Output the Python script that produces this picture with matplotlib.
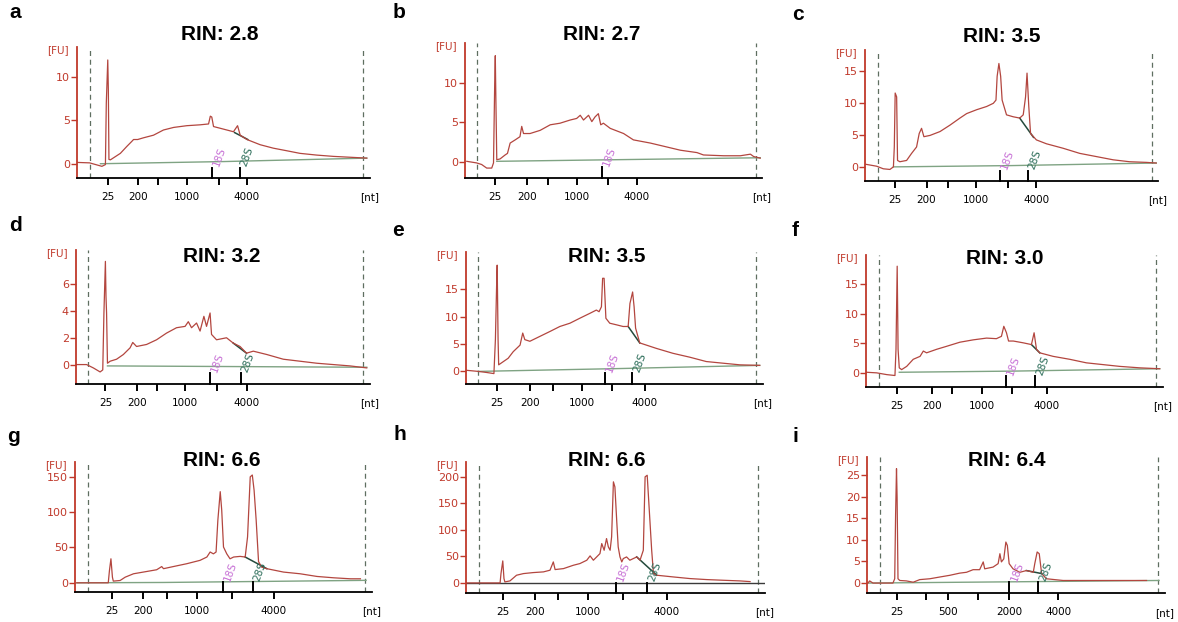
import matplotlib
matplotlib.use('Agg')
import matplotlib.pyplot as plt
import matplotlib.transforms as mtransforms

plt.rcParams['font.family'] = ['DejaVu Sans']

# =============================================================================
# Data (x = position along the run axis, 0-100)
# =============================================================================

rin_a, rin_b, rin_c = 'RIN: 2.8', 'RIN: 2.7', 'RIN: 3.5'
rin_d, rin_e, rin_f = 'RIN: 3.2', 'RIN: 3.5', 'RIN: 3.0'
rin_g, rin_h, rin_i = 'RIN: 6.6', 'RIN: 6.6', 'RIN: 6.4'

ladder_labels = ['25', '200', '', '1000', '', '4000']
ladder_labels_i = ['25', '', '500', '', '2000', '4000']

# a
x_a = [0.2, 4.3, 8.5, 9.7, 10.0, 10.2, 10.5, 10.7, 10.9, 11.4, 14.8, 17.0, 18.75, 19.3, 20.7,
       22.7, 26.1, 29.5, 33.0, 37.5, 42.0, 44.9, 45.5, 46.0, 46.6, 48.9, 53.4, 54.8, 55.7, 58.0,
       62.5, 67.0, 71.6, 76.1, 81.8, 87.5, 93.2, 98.9]
fu_a = [0.15, 0.1, -0.3, -0.1, 7.0, 9.0, 12.0, 8.5, 0.5, 0.45, 1.2, 2.0, 2.6, 2.8, 2.8,
        3.0, 3.3, 3.9, 4.2, 4.4, 4.5, 4.6, 5.5, 5.4, 4.3, 4.1, 3.7, 4.4, 3.3, 2.8,
        2.2, 1.8, 1.5, 1.2, 1.0, 0.85, 0.75, 0.65]
base_x_a, base_y_a = [8.0, 50.0, 98.9], [0.0, 0.25, 0.65]
dark_x_a, dark_y_a = [53.8, 58.3], [3.6, 2.8]
ladder_a = [10.5, 20.7, 27.8, 37.5, 48.3, 58.0]
marks_a = [46.0, 55.5]
dash_a = [4.3, 97.7]
yticks_a = [0, 5, 10]

# b
x_b = [0.6, 3.9, 5.6, 7.3, 9.0, 9.6, 10.0, 10.2, 10.4, 10.7, 11.8, 13.5, 14.3, 15.2, 16.9,
       18.5, 19.1, 19.7, 21.9, 25.3, 28.7, 32.0, 35.4, 37.6, 38.8, 39.9, 41.6, 42.7, 43.8, 44.9,
       45.7, 46.6, 48.9, 53.4, 56.7, 62.4, 66.9, 72.5, 78.1, 80.3, 87.1, 92.7, 96.1, 97.2, 99.4]
fu_b = [0.1, -0.1, -0.3, -0.75, -0.75, -0.1, 9.9, 13.4, 7.8, 0.3, 0.4, 0.9, 1.1, 2.4, 2.8,
        3.2, 4.5, 3.6, 3.6, 4.0, 4.7, 4.9, 5.3, 5.5, 5.9, 5.3, 5.9, 5.1, 5.7, 6.1,
        4.7, 4.9, 4.25, 3.6, 2.8, 2.4, 2.0, 1.5, 1.2, 0.9, 0.8, 0.8, 1.0, 0.7, 0.5]
base_x_b, base_y_b = [10.7, 50.0, 99.4], [0.1, 0.3, 0.55]
dark_x_b, dark_y_b = [], []
ladder_b = [10.2, 20.8, 27.8, 37.6, 48.3, 57.9]
marks_b = [46.1]
dash_b = [4.2, 98.0]
yticks_b = [0, 5, 10]

# c
x_c = [0.3, 4.0, 6.25, 8.5, 9.7, 10.0, 10.3, 10.8, 11.1, 11.9, 14.2, 15.9, 17.6, 18.5, 19.3,
       20.1, 22.2, 25.6, 29.0, 32.4, 34.7, 38.1, 41.5, 43.8, 44.7, 45.1, 45.7, 46.3, 46.8, 48.3,
       50.6, 52.8, 54.0, 54.8, 55.3, 55.9, 56.5, 58.5, 61.9, 67.6, 73.3, 79.0, 84.7, 90.3, 96.0,
       99.4]
fu_c = [0.4, 0.1, -0.3, -0.4, 0.0, 3.1, 11.5, 10.9, 1.0, 0.8, 1.0, 2.1, 3.1, 5.2, 6.0,
        4.7, 4.9, 5.5, 6.5, 7.6, 8.3, 8.9, 9.4, 9.9, 10.4, 14.1, 16.1, 14.1, 10.4, 8.1,
        7.8, 7.6, 8.1, 10.9, 14.6, 9.4, 5.2, 4.2, 3.6, 2.9, 2.1, 1.6, 1.1, 0.8, 0.7,
        0.6]
base_x_c, base_y_c = [9.7, 50.0, 99.4], [0.0, 0.2, 0.6]
dark_x_c, dark_y_c = [52.8, 57.5], [7.6, 4.6]
ladder_c = [10.2, 21.0, 28.4, 37.8, 48.9, 58.5]
marks_c = [46.0, 55.5]
dash_c = [4.3, 98.0]
yticks_c = [0, 5, 10, 15]

# d
x_d = [0.2, 3.6, 5.9, 8.2, 9.1, 9.5, 10.0, 10.2, 10.4, 10.7, 11.6, 13.8, 16.1, 18.4, 19.3,
       20.6, 24.0, 27.4, 30.8, 34.2, 37.1, 38.2, 39.3, 41.0, 42.2, 43.5, 44.4, 45.6, 46.1, 47.8,
       51.2, 53.5, 55.8, 58.0, 60.3, 64.9, 70.5, 76.2, 81.9, 87.5, 93.2, 98.9]
fu_d = [0.0, 0.0, -0.25, -0.55, -0.4, 3.85, 7.7, 5.1, 3.85, 0.1, 0.25, 0.4, 0.75, 1.25, 1.65,
        1.35, 1.5, 1.85, 2.35, 2.75, 2.85, 3.2, 2.75, 3.1, 2.5, 3.6, 2.85, 3.85, 2.25, 1.85,
        2.0, 1.6, 1.35, 0.85, 1.0, 0.75, 0.4, 0.25, 0.1, 0.0, -0.1, -0.25]
base_x_d, base_y_d = [10.7, 98.9], [-0.1, -0.2]
dark_x_d, dark_y_d = [53.5, 58.0], [1.6, 0.85]
ladder_d = [10.0, 20.6, 27.7, 37.1, 48.1, 58.0]
marks_d = [45.6, 56.0]
dash_d = [4.2, 97.7]
yticks_d = [0, 2, 4, 6]

# e
x_e = [0.2, 4.1, 7.0, 9.4, 9.9, 10.3, 10.5, 10.8, 11.0, 12.6, 14.2, 15.9, 18.2, 19.1, 19.8,
       21.5, 24.9, 28.3, 31.6, 35.0, 38.3, 41.7, 43.9, 44.8, 45.6, 46.0, 46.5, 47.1, 48.4, 50.7,
       52.9, 54.6, 55.2, 56.1, 56.6, 57.1, 58.5, 64.1, 69.7, 75.3, 80.9, 86.5, 92.2, 98.9]
fu_e = [0.2, 0.0, -0.2, -0.4, 5.8, 15.5, 19.4, 5.8, 1.2, 1.8, 2.4, 3.6, 4.8, 7.0, 5.8,
        5.5, 6.4, 7.3, 8.2, 8.8, 9.7, 10.6, 11.2, 10.9, 11.8, 17.0, 17.0, 9.7, 8.8, 8.5,
        8.2, 8.2, 12.4, 14.5, 11.8, 7.9, 5.2, 4.2, 3.3, 2.6, 1.8, 1.5, 1.2, 1.1]
base_x_e, base_y_e = [4.1, 50.0, 98.9], [0.0, 0.5, 1.1]
dark_x_e, dark_y_e = [54.6, 58.5], [8.2, 5.2]
ladder_e = [10.3, 21.5, 29.4, 38.9, 49.0, 60.2]
marks_e = [46.7, 55.9]
dash_e = [4.1, 97.8]
yticks_e = [0, 5, 10, 15]

# f
x_f = [0.2, 3.6, 7.0, 9.75, 10.1, 10.5, 10.8, 11.2, 12.0, 13.7, 15.9, 18.2, 19.3, 20.4, 23.8,
       27.1, 31.6, 36.1, 40.6, 43.9, 45.6, 46.4, 47.3, 48.0, 49.6, 52.9, 55.7, 56.6, 57.4, 58.5,
       63.0, 68.6, 74.2, 79.8, 85.4, 92.2, 98.9]
fu_f = [0.1, 0.0, -0.3, -0.45, 4.0, 18.1, 4.0, 0.85, 0.55, 1.1, 2.3, 2.8, 3.7, 3.4, 4.0,
        4.5, 5.2, 5.6, 5.9, 5.8, 6.2, 7.9, 6.8, 5.4, 5.4, 5.1, 4.8, 6.8, 4.0, 3.4,
        2.8, 2.3, 1.7, 1.4, 1.1, 0.85, 0.7]
base_x_f, base_y_f = [11.2, 50.0, 98.9], [0.1, 0.3, 0.7]
dark_x_f, dark_y_f = [55.7, 58.5], [4.8, 3.4]
ladder_f = [10.5, 22.1, 28.8, 39.1, 49.3, 60.8]
marks_f = [47.1, 57.0]
dash_f = [4.3, 97.5]
yticks_f = [0, 5, 10, 15]

# g
x_g = [0.6, 11.2, 11.6, 12.1, 12.6, 12.9, 15.2, 16.9, 19.7, 23.0, 27.5, 29.2, 29.8, 33.1, 37.6,
       42.1, 44.4, 45.5, 46.6, 47.5, 48.1, 48.9, 49.4, 50.0, 51.1, 52.2, 53.4, 55.6, 57.3, 58.1,
       59.0, 59.7, 60.3, 61.0, 61.8, 62.9, 64.6, 70.2, 75.8, 81.5, 87.1, 92.7, 96.1]
fu_g = [0, 0, 17.5, 34, 8, 2.4, 3.3, 8, 12.8, 15.2, 18.5, 23, 20, 23, 27,
        31.8, 36.5, 43.6, 41, 43.6, 88.6, 129, 103, 50.7, 41, 34, 36.5, 37.4, 36.5, 65,
        150, 152.6, 131, 88.6, 30, 22, 20, 15.2, 12.8, 9, 7.1, 5.7, 5.7]
base_x_g, base_y_g = [0.6, 30.0, 98.0], [0.0, 0.5, 3.5]
dark_x_g, dark_y_g = [57.3, 64.6], [36.5, 20]
ladder_g = [12.4, 23.0, 30.9, 41.0, 52.8, 66.9]
marks_g = [49.7, 59.8]
dash_g = [4.5, 97.5]
yticks_g = [0, 50, 100, 150]

# h
x_h = [0.2, 11.4, 11.7, 12.3, 12.7, 13.0, 14.7, 16.9, 19.2, 22.5, 25.9, 28.1, 29.2, 29.8, 32.6,
       35.9, 38.1, 40.4, 41.5, 42.6, 43.7, 44.8, 45.4, 46.2, 47.0, 47.6, 48.2, 48.7, 49.3, 49.8,
       50.4, 50.9, 51.5, 52.1, 52.6, 53.7, 54.8, 57.1, 58.2, 59.3, 59.9, 60.6, 61.3, 62.1, 62.7,
       63.8, 69.3, 74.9, 80.5, 86.1, 91.6, 95.0]
fu_h = [0, 0, 17.6, 41.5, 8.2, 1.9, 3.8, 14.5, 17.6, 19.5, 20.8, 24, 39.6, 25.2, 27,
        33.3, 36.5, 42.8, 51, 42.8, 49, 55.3, 74.2, 61.6, 83.6, 68, 61.6, 86.8, 190.6, 181,
        118, 68, 49, 39.6, 45.9, 49, 42.8, 49, 42.8, 61.6, 200, 203, 137, 61.6, 17.6,
        14.5, 11.3, 8.2, 6.3, 5, 3.8, 2.5]
base_x_h, base_y_h = [0.0, 100.0], [0.0, 0.0]
dark_x_h, dark_y_h = [57.1, 63.8], [49, 14.5]
ladder_h = [12.3, 23.1, 30.9, 40.9, 52.6, 67.1]
marks_h = [50.2, 60.4]
dash_h = [4.5, 97.8]
yticks_h = [0, 50, 100, 150, 200]

# i
x_i = [0.3, 0.9, 2.0, 8.7, 9.3, 9.6, 9.9, 10.1, 10.4, 11.0, 13.2, 15.5, 17.7, 21.1, 24.4,
       27.8, 31.1, 33.4, 35.6, 37.8, 39.0, 39.5, 42.3, 44.0, 44.6, 45.1, 45.9, 46.6, 47.1, 47.7,
       49.0, 51.3, 53.5, 55.8, 56.3, 57.1, 57.8, 58.6, 60.2, 65.8, 71.4, 77.0, 82.6, 88.2, 93.8]
fu_i = [0, 0.5, 0, 0, 1.0, 16, 26.5, 19.9, 1.0, 0.6, 0.5, 0.2, 0.8, 1.0, 1.4,
        1.8, 2.3, 2.5, 3.1, 3.1, 4.9, 3.3, 3.7, 4.5, 6.8, 4.9, 5.6, 9.5, 8.7, 4.5,
        3.3, 2.5, 2.9, 2.5, 4.5, 7.2, 6.8, 2.2, 1.0, 0.6, 0.6, 0.6, 0.6, 0.6, 0.6]
base_x_i, base_y_i = [0.3, 50.0, 98.0], [0.0, 0.3, 0.6]
dark_x_i, dark_y_i = [53.5, 58.6], [2.9, 2.2]
ladder_i = [9.9, 19.9, 27.2, 37.3, 47.7, 64.2]
marks_i = [47.7, 57.5]
dash_i = [4.3, 97.5]
yticks_i = [0, 5, 10, 15, 20, 25]

# =============================================================================
# Style
# =============================================================================

FIG_W, FIG_H = 1178, 622
RED = '#c0392b'
TRACE = '#b3463f'
BASE = '#7fa383'
DARK = '#244a3c'
DASH = '#5f6f60'
C18S = '#c873d6'
C28S = '#2f6f5c'
TITLE_FONT = ['Liberation Sans Narrow', 'Liberation Sans', 'DejaVu Sans']


def px_rect(left, right, top, bottom):
    """axes rectangle from pixel edges of the reference image"""
    return [left / FIG_W, 1 - bottom / FIG_H, (right - left) / FIG_W, (bottom - top) / FIG_H]


def draw_panel(fig, rect, ylim, x, fu, bx, by, dx, dy, ladder, labels, marks, dash, yticks,
               base_col=BASE):
    ax = fig.add_axes(rect)
    ax.set_xlim(0, 100)
    ax.set_ylim(*ylim)

    for s in ('top', 'right'):
        ax.spines[s].set_visible(False)
    ax.spines['left'].set_color(RED)
    ax.spines['left'].set_linewidth(1.3)
    ax.spines['bottom'].set_color('black')
    ax.spines['bottom'].set_linewidth(1.3)

    # dashed run window
    for xd in dash:
        ax.axvline(xd, color=DASH, lw=0.9, ls=(0, (4, 3)))

    ax.plot(bx, by, color=base_col, lw=1.0)
    if dx:
        ax.plot(dx, dy, color=DARK, lw=1.1)
    ax.plot(x, fu, color=TRACE, lw=0.9)

    ax.set_yticks(yticks)
    ax.tick_params(axis='y', colors=RED, labelsize=8, length=4, width=1.0, pad=1)
    ax.set_xticks(ladder)
    ax.set_xticklabels(labels)
    ax.tick_params(axis='x', colors='black', labelsize=7.5, length=5, width=1.4, pad=5)

    # 18S / 28S marker ticks standing on the axis
    trans = mtransforms.blended_transform_factory(ax.transData, ax.transAxes)
    names = ['18S', '28S']
    cols = [C18S, C28S]
    for k, xm in enumerate(marks):
        ax.plot([xm, xm], [0, 0.08], color='black', lw=1.4, transform=trans, clip_on=False)
        ax.text(xm + 2.6, 0.16, names[k], color=cols[k], fontsize=7.5, rotation=70,
                ha='center', va='center', transform=trans)

    ax.text(-0.065, 0.98, '[FU]', color=RED, fontsize=7.5, ha='center', va='center',
            transform=ax.transAxes)
    ax.text(1.0, -0.145, '[nt]', color='black', fontsize=7.5, ha='center', va='center',
            transform=ax.transAxes)
    return ax


fig = plt.figure(figsize=(FIG_W / 100, FIG_H / 100), dpi=100)

panels = [
    ('a', rin_a, px_rect(77, 370, 47, 178), (-1.65, 13.5), x_a, fu_a, base_x_a, base_y_a,
     dark_x_a, dark_y_a, ladder_a, ladder_labels, marks_a, dash_a, yticks_a, (15, 13), (220, 34)),
    ('b', rin_b, px_rect(465, 762, 43, 178), (-2.0, 15.0), x_b, fu_b, base_x_b, base_y_b,
     dark_x_b, dark_y_b, ladder_b, ladder_labels, marks_b, dash_b, yticks_b, (399, 13), (602, 34)),
    ('c', rin_c, px_rect(865, 1158, 50, 181), (-2.2, 18.2), x_c, fu_c, base_x_c, base_y_c,
     dark_x_c, dark_y_c, ladder_c, ladder_labels, marks_c, dash_c, yticks_c, (798, 15), (1002, 36)),
    ('d', rin_d, px_rect(76, 370, 250, 384), (-1.45, 8.55), x_d, fu_d, base_x_d, base_y_d,
     dark_x_d, dark_y_d, ladder_d, ladder_labels, marks_d, dash_d, yticks_d, (15, 226), (222, 256)),
    ('e', rin_e, px_rect(466, 763, 252, 384), (-2.3, 21.8), x_e, fu_e, base_x_e, base_y_e,
     dark_x_e, dark_y_e, ladder_e, ladder_labels, marks_e, dash_e, yticks_e, (398, 230), (607, 256)),
    ('f', rin_f, px_rect(866, 1163, 255, 387), (-2.4, 20.0), x_f, fu_f, base_x_f, base_y_f,
     dark_x_f, dark_y_f, ladder_f, ladder_labels, marks_f, dash_f, yticks_f, (795, 231), (1005, 259)),
    ('g', rin_g, px_rect(75, 372, 462, 592), (-13, 171), x_g, fu_g, base_x_g, base_y_g,
     dark_x_g, dark_y_g, ladder_g, ladder_labels, marks_g, dash_g, yticks_g, (13, 436), (222, 461)),
    ('h', rin_h, px_rect(466, 765, 462, 593), (-19, 228), x_h, fu_h, base_x_h, base_y_h,
     dark_x_h, dark_y_h, ladder_h, ladder_labels, marks_h, dash_h, yticks_h, (400, 434), (607, 461)),
    ('i', rin_i, px_rect(867, 1165, 457, 593), (-2.3, 29.2), x_i, fu_i, base_x_i, base_y_i,
     dark_x_i, dark_y_i, ladder_i, ladder_labels_i, marks_i, dash_i, yticks_i, (795, 436), (1007, 461)),
]

for p in panels:
    letter, rin, rect, ylim = p[0], p[1], p[2], p[3]
    # panel h draws its baseline in dark grey instead of green
    base_col = '#3a3a3a' if letter == 'h' else BASE
    draw_panel(fig, rect, ylim, *p[4:15], base_col=base_col)
    lx, ly = p[15]
    tx, ty = p[16]
    fig.text(lx / FIG_W, 1 - ly / FIG_H, letter, fontsize=15, fontweight='bold',
             family=TITLE_FONT, ha='center', va='center')
    fig.text(tx / FIG_W, 1 - ty / FIG_H, rin, fontsize=15, fontweight='bold',
             family=TITLE_FONT, ha='center', va='center')

fig.savefig('out.png', dpi=100)
